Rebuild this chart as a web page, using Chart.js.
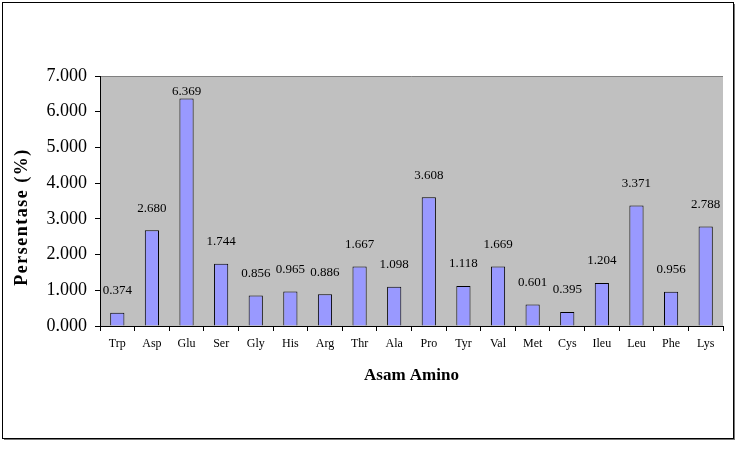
<!DOCTYPE html>
<html>
<head>
<meta charset="utf-8">
<script src="https://cdn.jsdelivr.net/npm/chart.js@4/dist/chart.umd.min.js"></script>
<style>
  html, body { margin: 0; padding: 0; background: #fff; }
  #wrap { width: 736px; height: 452px; position: relative; }
</style>
</head>
<body>
<div id="wrap"><canvas id="chart" width="736" height="452"></canvas></div>
<script>
  // data
  const aminoLabels = ['Trp', 'Asp', 'Glu', 'Ser', 'Gly', 'His', 'Arg', 'Thr', 'Ala', 'Pro', 'Tyr', 'Val', 'Met', 'Cys', 'Ileu', 'Leu', 'Phe', 'Lys'];
  const persentase = [0.374, 2.680, 6.369, 1.744, 0.856, 0.965, 0.886, 1.667, 1.098, 3.608, 1.118, 1.669, 0.601, 0.395, 1.204, 3.371, 0.956, 2.788];
  const yMin = 0, yMax = 7, yStep = 1;
  const yTitle = 'Persentase (%)';

  const serif = "'Liberation Serif', 'Times New Roman', serif";

  // grey plot area + outer frame
  const framePlugin = {
    id: 'frame',
    beforeDraw(chart) {
      const { ctx, chartArea: a } = chart;
      ctx.save();
      ctx.fillStyle = '#fff';
      ctx.fillRect(0, 0, chart.width, chart.height);
      ctx.fillStyle = '#c0c0c0';
      ctx.fillRect(a.left, a.top, a.right - a.left, a.bottom - a.top);
      ctx.strokeStyle = '#808080';
      ctx.lineWidth = 1;
      ctx.beginPath();
      ctx.moveTo(a.left, a.top + 0.5);
      ctx.lineTo(a.right, a.top + 0.5);
      ctx.stroke();
      ctx.restore();
    },
    afterDraw(chart) {
      const { ctx, chartArea } = chart;
      ctx.save();
      // y title, a bit spaced out and sitting low like the original
      ctx.translate(22, (chartArea.top + chartArea.bottom) / 2 + 16);
      ctx.rotate(-Math.PI / 2);
      ctx.font = 'bold 18px ' + serif;
      ctx.letterSpacing = '1.5px';
      ctx.fillStyle = '#000';
      ctx.textAlign = 'center';
      ctx.textBaseline = 'middle';
      ctx.fillText(yTitle, 0, 0);
      ctx.restore();

      ctx.save();
      ctx.strokeStyle = '#000';
      ctx.lineWidth = 1;
      ctx.strokeRect(2.5, 2.5, 731, 436);
      ctx.strokeStyle = '#777';
      ctx.beginPath();
      ctx.moveTo(4, 439.5);
      ctx.lineTo(734, 439.5);
      ctx.moveTo(734.5, 4);
      ctx.lineTo(734.5, 440);
      ctx.stroke();
      ctx.restore();
    }
  };

  // value labels above each bar
  const valueLabels = {
    id: 'valueLabels',
    afterDatasetsDraw(chart) {
      const { ctx, chartArea } = chart;
      const meta = chart.getDatasetMeta(0);
      ctx.save();
      ctx.font = '13px ' + serif;
      ctx.fillStyle = '#000';
      ctx.textAlign = 'center';
      ctx.textBaseline = 'middle';
      meta.data.forEach((bar, i) => {
        const y = Math.max(bar.y - 22, chartArea.top + 16);
        ctx.fillText(persentase[i].toFixed(3), bar.x, y);
      });
      ctx.restore();
    }
  };

  new Chart(document.getElementById('chart').getContext('2d'), {
    type: 'bar',
    data: {
      labels: aminoLabels,
      datasets: [{
        data: persentase,
        backgroundColor: '#9999ff',
        borderColor: '#000',
        borderWidth: 1,
        barPercentage: 0.41,
        categoryPercentage: 1
      }]
    },
    options: {
      responsive: false,
      animation: false,
      layout: { padding: { top: 76, right: 13, left: 0, bottom: 56 } },
      plugins: { legend: { display: false }, tooltip: { enabled: false } },
      scales: {
        x: {
          afterFit: (s) => { s.height = 70; },
          grid: { drawOnChartArea: false, drawTicks: true, tickLength: 5, color: '#000', offset: true },
          border: { display: true, color: '#000', width: 1 },
          ticks: { color: '#000', padding: 6, maxRotation: 0, font: { family: serif, size: 12 } },
          title: { display: true, text: 'Asam Amino', color: '#000', padding: { top: 0, bottom: 10 }, font: { family: serif, size: 17, weight: 'bold' } }
        },
        y: {
          min: yMin,
          max: yMax,
          afterFit: (s) => { s.width = 100; },
          grid: { drawOnChartArea: false, drawTicks: true, tickLength: 5, color: '#000' },
          border: { display: true, color: '#000', width: 1 },
          ticks: { stepSize: yStep, color: '#000', padding: 8, font: { family: serif, size: 18 }, callback: (v) => v.toFixed(3) }
        }
      }
    },
    plugins: [framePlugin, valueLabels]
  });
</script>
</body>
</html>
